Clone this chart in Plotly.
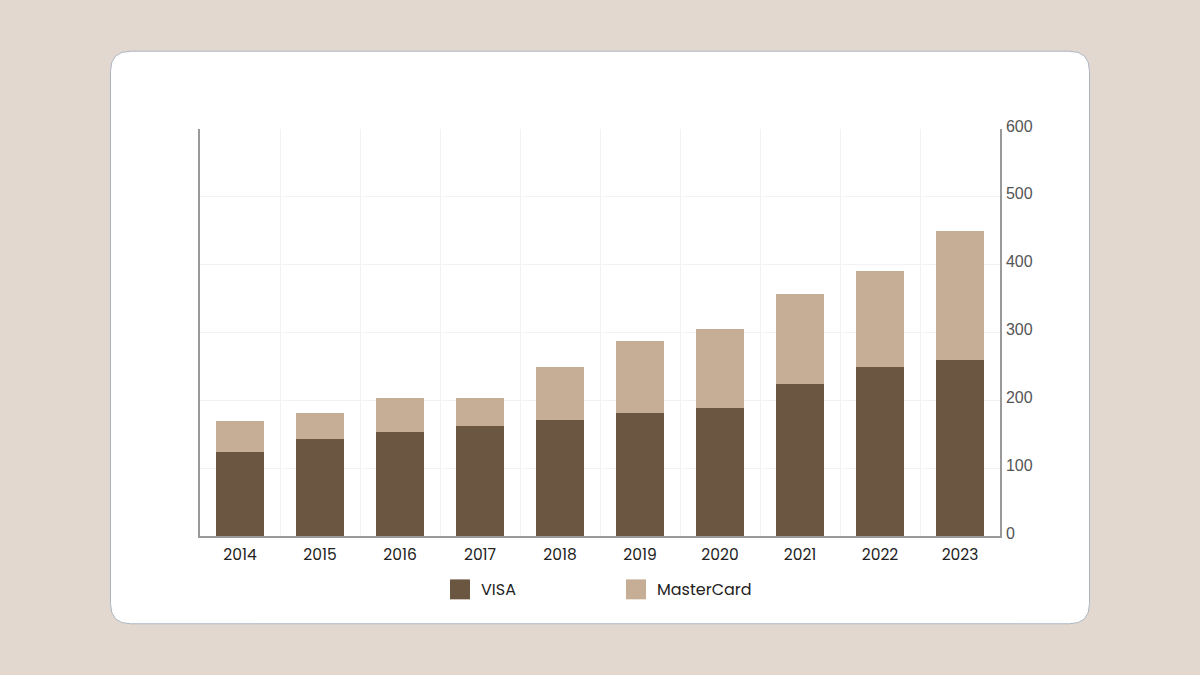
import plotly.graph_objects as go

years = ["2014", "2015", "2016", "2017", "2018", "2019", "2020", "2021", "2022", "2023"]
visa = [124, 143, 153, 162, 171, 182, 189, 224, 249, 260]
mastercard = [46, 38, 50, 41, 78, 106, 116, 133, 141, 189]
y_ticks = [0, 100, 200, 300, 400, 500, 600]

visa_color = "#6b5642"
mc_color = "#c6ad95"
font_family = "Poppins, Inter, Open Sans, sans-serif"
y_font = "Liberation Sans, Arial, Helvetica, sans-serif"

W, H = 1200, 675
L, R, T, B = 200, 200, 128.5, 138.5
pw, ph = W - L - R, H - T - B


def px(x):
    return (x - L) / pw


def py(y):
    return (H - B - y) / ph


fig = go.Figure()
fig.add_trace(go.Bar(x=years, y=visa, name="VISA", marker_color=visa_color,
                     marker_line_width=0, showlegend=False))
fig.add_trace(go.Bar(x=years, y=mastercard, name="MasterCard", marker_color=mc_color,
                     marker_line_width=0, showlegend=False))

# rounded card
x0, x1, y0, y1 = px(110.5), px(1089.5), py(624.5), py(50.5)
rx, ry = 20 / pw, 20 / ph
path = (f"M {x0+rx},{y1} L {x1-rx},{y1} Q {x1},{y1} {x1},{y1-ry} "
        f"L {x1},{y0+ry} Q {x1},{y0} {x1-rx},{y0} L {x0+rx},{y0} "
        f"Q {x0},{y0} {x0},{y0+ry} L {x0},{y1-ry} Q {x0},{y1} {x0+rx},{y1} Z")
shapes = [dict(type="path", path=path, xref="paper", yref="paper",
               fillcolor="white", line=dict(color="#aab4c0", width=1), layer="below")]

# legend
legend_items = [("VISA", visa_color, 450), ("MasterCard", mc_color, 626)]
annotations = []
for label, col, lx in legend_items:
    shapes.append(dict(type="rect", xref="paper", yref="paper",
                       x0=px(lx), x1=px(lx + 20), y0=py(600), y1=py(580),
                       fillcolor=col, line=dict(width=0)))
    annotations.append(dict(text=label, xref="paper", yref="paper",
                            x=px(lx + 28.5), y=py(590), xanchor="left", yanchor="middle",
                            showarrow=False, font=dict(size=16, color="#222", family=font_family)))

fig.update_layout(
    width=W, height=H,
    margin=dict(l=L, r=R, t=T, b=B),
    paper_bgcolor="#e3d8cf",
    plot_bgcolor="rgba(0,0,0,0)",
    barmode="stack",
    bargap=0.4,
    shapes=shapes,
    annotations=annotations,
    xaxis=dict(type="category", tickson="boundaries", showgrid=True, gridcolor="#f2f2f2",
               gridwidth=1, showline=True, linecolor="#999", linewidth=1.5, ticks="",
               ticklabelstandoff=4,
               tickfont=dict(size=15.5, color="#222", family=font_family), fixedrange=True),
    yaxis=dict(side="right", range=[0, 600], tickvals=y_ticks, showgrid=True,
               gridcolor="#f2f2f2", gridwidth=1, showline=True, mirror=True,
               linecolor="#999", linewidth=1.5, ticks="", zeroline=False,
               ticklabelstandoff=1, ticklabelshift=-3,
               tickfont=dict(size=16, color="#555", family=y_font)),
)

fig.write_html(
    "out.html",
    config={"displayModeBar": False},
    post_script="document.body.style.margin='0';document.body.style.overflow='hidden';"
                "document.body.style.background='#e3d8cf';",
)
